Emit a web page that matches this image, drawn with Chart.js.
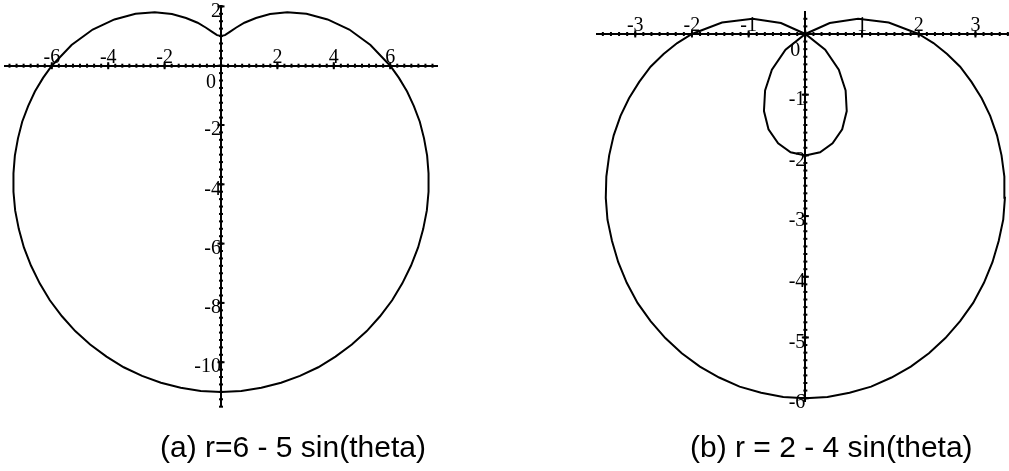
<!DOCTYPE html>
<html>
<head>
<meta charset="utf-8">
<script src="https://cdn.jsdelivr.net/npm/chart.js@4.4.1/dist/chart.umd.min.js"></script>
<style>
  html, body { margin: 0; padding: 0; background: #fff; }
  body { width: 1009px; height: 471px; position: relative; overflow: hidden; }
  canvas { position: absolute; left: 0; top: -20px; }
  .cap { position: absolute; font-family: "Liberation Sans", Arial, sans-serif; font-size: 30px; line-height: 1; color: #000; white-space: pre; }
</style>
</head>
<body>
<canvas id="chart-a" width="1030" height="491"></canvas>
<canvas id="chart-b" width="1030" height="491"></canvas>
<div class="cap" style="left:160px; top:432px;">(a) r=6 - 5 sin(theta)</div>
<div class="cap" style="left:690px; top:432px;">(b) r = 2 - 4 sin(theta)</div>
<script>
// (a) r = 6 - 5 sin(theta)
let curveAX = [6, 5.30, 4.55, 3.78, 3.03, 2.35, 1.74, 1.24, 0.83, 0.53, 0.30, 0.14, 0,
  -0.14, -0.30, -0.53, -0.83, -1.24, -1.74, -2.35, -3.03, -3.78, -4.55, -5.30, -6,
  -6.31, -6.60, -6.84, -7.05, -7.20, -7.31, -7.36, -7.36, -7.30, -7.17, -6.99, -6.74,
  -6.43, -6.07, -5.64, -5.17, -4.64, -4.06, -3.45, -2.80, -2.13, -1.43, -0.72, 0,
  0.72, 1.43, 2.13, 2.80, 3.45, 4.06, 4.64, 5.17, 5.64, 6.07, 6.43,
  6.74, 6.99, 7.17, 7.30, 7.36, 7.36, 7.31, 7.20, 7.05, 6.84, 6.60, 6.31, 6];
let curveAY = [0, 0.70, 1.22, 1.56, 1.75, 1.80, 1.74, 1.61, 1.45, 1.28, 1.13, 1.03, 1,
  1.03, 1.13, 1.28, 1.45, 1.61, 1.74, 1.80, 1.75, 1.56, 1.22, 0.70, 0,
  -0.41, -0.87, -1.36, -1.89, -2.45, -3.03, -3.63, -4.25, -4.88, -5.51, -6.13, -6.74,
  -7.34, -7.91, -8.45, -8.95, -9.40, -9.81, -10.17, -10.46, -10.69, -10.86, -10.97, -11,
  -10.97, -10.86, -10.69, -10.46, -10.17, -9.81, -9.40, -8.95, -8.45, -7.91, -7.34,
  -6.74, -6.13, -5.51, -4.88, -4.25, -3.63, -3.03, -2.45, -1.89, -1.36, -0.87, -0.41, 0];

// (b) r = 2 - 4 sin(theta)
let curveBX = [2, 1.47, 0.93, 0.43, 0, -0.35, -0.59, -0.71, -0.73, -0.65, -0.48, -0.26, 0,
  0.26, 0.48, 0.65, 0.73, 0.71, 0.59, 0.35, 0, -0.43, -0.93, -1.47, -2,
  -2.26, -2.50, -2.73, -2.93, -3.11, -3.26, -3.38, -3.46, -3.51, -3.52, -3.49, -3.41,
  -3.30, -3.15, -2.96, -2.73, -2.47, -2.18, -1.86, -1.52, -1.16, -0.78, -0.39, 0,
  0.39, 0.78, 1.16, 1.52, 1.86, 2.18, 2.47, 2.73, 2.96, 3.15, 3.30,
  3.41, 3.49, 3.52, 3.51, 3.46, 3.38, 3.26, 3.11, 2.93, 2.73, 2.50, 2.26, 2];
let curveBY = [0, 0.19, 0.25, 0.18, 0, -0.26, -0.59, -0.93, -1.27, -1.57, -1.80, -1.95, -2,
  -1.95, -1.80, -1.57, -1.27, -0.93, -0.59, -0.26, 0, 0.18, 0.25, 0.19, 0,
  -0.15, -0.33, -0.54, -0.79, -1.06, -1.35, -1.67, -2, -2.35, -2.70, -3.06, -3.41,
  -3.76, -4.10, -4.43, -4.73, -5.01, -5.26, -5.48, -5.66, -5.81, -5.91, -5.98, -6,
  -5.98, -5.91, -5.81, -5.66, -5.48, -5.26, -5.01, -4.73, -4.43, -4.10, -3.76,
  -3.41, -3.06, -2.70, -2.35, -2, -1.67, -1.35, -1.06, -0.79, -0.54, -0.33, -0.15, 0];

// axis ranges
let rangeA = { xMin: -7.66, xMax: 7.66, yMin: -11.5, yMax: 2 };
let rangeB = { xMin: -3.68, xMax: 3.68, yMin: -6.06, yMax: 0.367 };

// maple style crossing tick marks on the axes
const crossTicks = {
    id: 'crossTicks',
    afterDraw(chart, args, opts) {
        const ctx = chart.ctx;
        const x = chart.scales.x, y = chart.scales.y;
        const x0 = x.getPixelForValue(0), y0 = y.getPixelForValue(0);
        ctx.save();
        ctx.strokeStyle = '#000';
        ctx.lineWidth = 2;
        const marks = (scale, step, half, horiz) => {
            for (let v = Math.ceil(scale.min / step - 1e-9) * step; v <= scale.max + 1e-9; v += step) {
                const p = scale.getPixelForValue(v);
                ctx.beginPath();
                if (horiz) { ctx.moveTo(p, y0 - half); ctx.lineTo(p, y0 + half); }
                else { ctx.moveTo(x0 - half, p); ctx.lineTo(x0 + half, p); }
                ctx.stroke();
            }
        };
        marks(x, opts.xMinor, 2, true);
        marks(y, opts.yMinor, 2, false);
        marks(x, opts.xMajor, 3.5, true);
        marks(y, opts.yMajor, 3.5, false);
        ctx.restore();
    }
};

const tickFont = { family: 'Liberation Serif', size: 20 };

function makeConfig(xs, ys, range, xStep, yStep, minor, pad) {
    return {
        type: 'scatter',
        data: {
            datasets: [{
                data: xs.map((v, i) => ({ x: v, y: ys[i] })),
                showLine: true,
                borderColor: '#000',
                borderWidth: 2,
                pointRadius: 0,
                tension: 0,
            }]
        },
        options: {
            responsive: false,
            animation: false,
            events: [],
            layout: { padding: pad },
            plugins: {
                legend: { display: false },
                tooltip: { enabled: false },
                crossTicks: minor,
            },
            scales: {
                x: {
                    type: 'linear',
                    position: { y: 0 },
                    min: range.xMin,
                    max: range.xMax,
                    grid: { display: false },
                    border: { display: true, color: '#000', width: 2 },
                    ticks: {
                        stepSize: xStep,
                        includeBounds: false,
                        autoSkip: false,
                        maxRotation: 0,
                        padding: -28,
                        color: '#000',
                        font: tickFont,
                        callback: v => v === 0 ? '' : String(v),
                    }
                },
                y: {
                    type: 'linear',
                    position: { x: 0 },
                    min: range.yMin,
                    max: range.yMax,
                    grid: { display: false },
                    border: { display: true, color: '#000', width: 2 },
                    ticks: {
                        stepSize: yStep,
                        includeBounds: false,
                        autoSkip: false,
                        padding: 3,
                        labelOffset: 5,
                        color: '#000',
                        font: tickFont,
                        callback: v => v === 0 ? ['', '0 '] : String(v),
                    }
                }
            }
        },
        plugins: [crossTicks]
    };
}

const chartA = new Chart(
    document.getElementById('chart-a'),
    makeConfig(curveAX, curveAY, rangeA, 2, 2,
        { xMinor: 0.25, yMinor: 0.25, xMajor: 2, yMajor: 2 },
        { left: 5, right: 593, top: 26.4, bottom: 64.3 })
);
const chartB = new Chart(
    document.getElementById('chart-b'),
    makeConfig(curveBX, curveBY, rangeB, 1, 1,
        { xMinor: 1 / 7, yMinor: 0.125, xMajor: 1, yMajor: 1 },
        { left: 596.7, right: 16, top: 31.7, bottom: 69.2 })
);
</script>
</body>
</html>
